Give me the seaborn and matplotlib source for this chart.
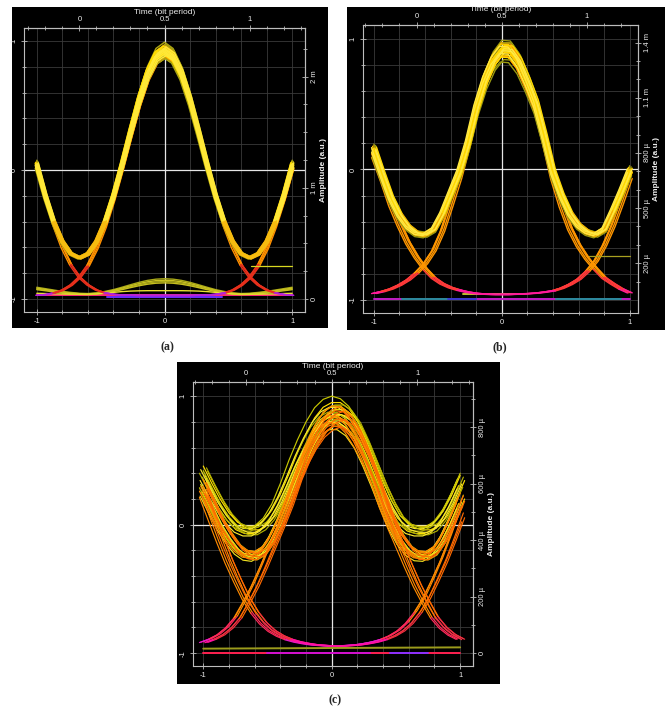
import numpy as np
import pandas as pd
import matplotlib
matplotlib.use("Agg")
import matplotlib.pyplot as plt
from matplotlib.patches import Rectangle
from matplotlib.ticker import FixedLocator
import seaborn as sns

sns.set_style("ticks")
plt.rcParams["font.family"] = ["Liberation Sans", "DejaVu Sans"]
plt.rcParams["axes.unicode_minus"] = False

FIG_W, FIG_H = 667, 711

# sample positions shared by every trace (time axis, -1 .. 1)
X_GRID = np.linspace(-1.0, 1.0, 31)

# ---------------- panel (a) ----------------
A_EYE = [0.043, -0.198, -0.402, -0.554, -0.648, -0.680, -0.648, -0.554, -0.402, -0.198,
         0.043, 0.299, 0.544, 0.748, 0.883, 0.930, 0.883, 0.748, 0.544, 0.299,
         0.043, -0.198, -0.402, -0.554, -0.648, -0.680, -0.648, -0.554, -0.402, -0.198, 0.043]
A_RISE = [-0.970, -0.965, -0.952, -0.930, -0.890, -0.828, -0.735, -0.600, -0.425, -0.210,
          0.036, 0.296, 0.543, 0.747, 0.883, 0.930, 0.883, 0.748, 0.544, 0.299,
          0.043, -0.198, -0.402, -0.554, -0.648, -0.680, -0.648, -0.554, -0.402, -0.198, 0.043]
A_FALL = [0.043, -0.198, -0.402, -0.554, -0.648, -0.680, -0.648, -0.554, -0.402, -0.198,
          0.043, 0.299, 0.544, 0.748, 0.883, 0.930, 0.883, 0.747, 0.543, 0.296,
          0.036, -0.210, -0.425, -0.600, -0.735, -0.828, -0.890, -0.930, -0.952, -0.965, -0.970]
A_DIP = [0.040, -0.205, -0.420, -0.600, -0.735, -0.830, -0.890, -0.930, -0.952, -0.963,
         -0.968, -0.970, -0.972, -0.972, -0.972, -0.972, -0.972, -0.972, -0.972, -0.970,
         -0.968, -0.963, -0.952, -0.930, -0.890, -0.830, -0.735, -0.600, -0.420, -0.205, 0.040]
A_BUMP = [-0.915, -0.925, -0.935, -0.945, -0.952, -0.958, -0.960, -0.955, -0.945, -0.932,
          -0.915, -0.897, -0.880, -0.866, -0.857, -0.854, -0.857, -0.866, -0.880, -0.897,
          -0.915, -0.932, -0.945, -0.955, -0.960, -0.958, -0.952, -0.945, -0.935, -0.925, -0.915]
A_LOW = [-0.955, -0.957, -0.959, -0.961, -0.962, -0.962, -0.962, -0.960, -0.955, -0.948,
         -0.942, -0.938, -0.936, -0.935, -0.935, -0.935, -0.935, -0.935, -0.936, -0.938,
         -0.942, -0.948, -0.955, -0.960, -0.962, -0.962, -0.962, -0.961, -0.959, -0.957, -0.955]
A_EYE_SCALES = [1.031, 1.022, 1.016, 1.012, 1.009, 1.006, 1.004, 1.002, 1.0, 0.998,
                0.996, 0.994, 0.992, 0.990, 0.988, 0.985, 0.982, 0.978, 0.972, 0.966]
A_EDGE_SCALES = [1.02, 1.0, 0.985, 0.97]
A_BUMP_SCALES = [1.08, 1.0, 0.93, 0.86]
A_SHIFTS = [0.0, 0.008, -0.008, 0.012, -0.012, 0.004, -0.004]
A_FLAT = [(-1.0, 1.0, -0.972, -0.972), (-0.45, 0.45, -0.985, -0.985),
          (0.675, 1.0, -0.745, -0.745)]
A_AMP_MAX = 2.32e-3
A_AMP_TICKS = [0.0, 1e-3, 2e-3]
A_AMP_LABELS = ["0", "1 m", "2 m"]

# ---------------- panel (b) ----------------
B_EYE = [0.15, -0.04, -0.22, -0.35, -0.44, -0.49, -0.50, -0.46, -0.34, -0.18,
         -0.02, 0.20, 0.47, 0.68, 0.83, 0.915, 0.91, 0.82, 0.67, 0.50,
         0.25, -0.02, -0.20, -0.34, -0.43, -0.48, -0.50, -0.46, -0.32, -0.17, -0.01]
B_RISE = [-0.95, -0.935, -0.915, -0.885, -0.845, -0.79, -0.72, -0.62, -0.47, -0.27,
          -0.06, 0.19, 0.47, 0.68, 0.83, 0.915, 0.91, 0.82, 0.67, 0.50,
          0.25, -0.02, -0.20, -0.34, -0.43, -0.48, -0.50, -0.46, -0.32, -0.17, -0.01]
B_FALL = [0.15, -0.04, -0.22, -0.35, -0.44, -0.49, -0.50, -0.46, -0.34, -0.18,
          -0.02, 0.20, 0.47, 0.68, 0.83, 0.915, 0.91, 0.82, 0.67, 0.50,
          0.24, -0.05, -0.27, -0.45, -0.58, -0.68, -0.76, -0.83, -0.875, -0.915, -0.945]
B_DIP = [0.12, -0.06, -0.26, -0.42, -0.56, -0.67, -0.76, -0.83, -0.875, -0.905,
         -0.925, -0.94, -0.95, -0.955, -0.958, -0.958, -0.958, -0.955, -0.952, -0.948,
         -0.94, -0.93, -0.91, -0.88, -0.84, -0.78, -0.70, -0.58, -0.43, -0.25, -0.06]
B_EYE_SCALES = [1.039, 1.030, 1.024, 1.019, 1.015, 1.011, 1.008, 1.005, 1.002, 1.0,
                0.997, 0.994, 0.990, 0.986, 0.980, 0.972, 0.962, 0.952]
B_EDGE_SCALES = [1.03, 1.015, 1.0, 0.99, 0.975]
B_SHIFTS = [0.0, 0.012, -0.010, 0.020, -0.018, 0.006, -0.006, 0.015, -0.014]
B_FLAT = [(-1.0, 1.0, -0.99, -0.99), (-0.78, -0.42, -0.99, -0.99), (0.42, 0.93, -0.99, -0.99),
          (-0.42, -0.20, -0.99, -0.99), (-0.30, 0.15, -0.955, -0.955),
          (0.685, 1.0, -0.66, -0.66)]
B_AMP_MAX = 1.42e-3
B_AMP_TICKS = [200e-6, 500e-6, 800e-6, 1.1e-3, 1.4e-3]
B_AMP_LABELS = ["200 µ", "500 µ", "800 µ", "1.1 m", "1.4 m"]

# ---------------- panel (c) ----------------
C_EYE_HIGH = [0.40, 0.27, 0.15, 0.05, -0.02, -0.05, -0.05, -0.01, 0.07, 0.19,
              0.34, 0.50, 0.64, 0.76, 0.84, 0.875, 0.875, 0.83, 0.74, 0.60,
              0.44, 0.28, 0.14, 0.03, -0.03, -0.05, -0.05, -0.02, 0.06, 0.18, 0.33]
C_EYE_LOW = [0.30, 0.16, 0.02, -0.09, -0.18, -0.23, -0.24, -0.20, -0.10, 0.04,
             0.21, 0.39, 0.56, 0.70, 0.80, 0.85, 0.85, 0.80, 0.70, 0.55,
             0.38, 0.20, 0.03, -0.10, -0.19, -0.235, -0.24, -0.20, -0.10, 0.04, 0.20]
C_TOP = [0.42, 0.29, 0.16, 0.06, -0.01, -0.03, -0.01, 0.05, 0.16, 0.32,
         0.50, 0.66, 0.80, 0.91, 0.975, 1.0, 0.98, 0.92, 0.82, 0.68,
         0.52, 0.35, 0.19, 0.07, 0.0, -0.03, -0.02, 0.03, 0.12, 0.25, 0.40]
C_RISE = [-0.915, -0.89, -0.855, -0.80, -0.72, -0.60, -0.47, -0.32, -0.16, 0.0,
          0.17, 0.37, 0.53, 0.66, 0.76, 0.82, 0.845, 0.80, 0.70, 0.55,
          0.38, 0.20, 0.03, -0.10, -0.19, -0.235, -0.24, -0.20, -0.10, 0.04, 0.20]
C_FALL = [0.30, 0.16, 0.02, -0.09, -0.18, -0.23, -0.24, -0.20, -0.10, 0.04,
          0.21, 0.39, 0.56, 0.70, 0.80, 0.85, 0.84, 0.77, 0.66, 0.53,
          0.37, 0.17, 0.0, -0.16, -0.32, -0.47, -0.60, -0.72, -0.80, -0.855, -0.89]
C_DIP = [0.25, 0.07, -0.11, -0.28, -0.43, -0.57, -0.68, -0.765, -0.825, -0.865,
         -0.893, -0.912, -0.925, -0.935, -0.94, -0.945, -0.945, -0.94, -0.935, -0.925,
         -0.912, -0.893, -0.865, -0.825, -0.765, -0.68, -0.57, -0.43, -0.28, -0.11, 0.07]
C_HIGH_SCALES = [1.04, 1.03, 1.02, 1.01, 1.0, 0.99, 0.98, 0.97, 0.96]
C_LOW_SCALES = [1.04, 1.025, 1.01, 1.0, 0.99, 0.98, 0.97, 0.955, 0.94]
C_EDGE_SCALES = [1.04, 1.02, 1.0, 0.985, 0.97, 0.955]
C_SHIFTS = [0.0, 0.025, -0.02, 0.035, -0.03, 0.012, -0.012, 0.02, -0.025, 0.03]
C_FLAT = [(-1.0, 1.0, -0.965, -0.955), (-1.0, 1.0, -1.0, -1.0),
          (-0.5, 0.3, -1.0, -1.0), (0.45, 0.75, -1.0, -1.0)]
C_AMP_MAX = 0.91e-3
C_AMP_TICKS = [0.0, 200e-6, 400e-6, 600e-6, 800e-6]
C_AMP_LABELS = ["0", "200 µ", "400 µ", "600 µ", "800 µ"]

# ---------------- styling ----------------
FRAME = "#bdbdbd"
GRID = "#3a3a3a"
ZERO_LINE = "#e6e6e6"
TEXT = "#ececec"
INF = np.inf


def px_rect(left, top, right, bottom):
    return [left / FIG_W, 1 - bottom / FIG_H, (right - left) / FIG_W, (bottom - top) / FIG_H]


def trace_frame(base, scales, shifts, ink):
    """Long-form table of traces; each trace is split into colour bands by level."""
    base = np.asarray(base, float)
    rows, uid = [], 0
    for k, s in enumerate(scales):
        bands = ink(k, len(scales))
        thr = [b[0] for b in bands]
        y = -1.0 + (base + 1.0) * s
        x = X_GRID + shifts[k % len(shifts)]
        band = np.searchsorted(thr, 0.5 * (y[:-1] + y[1:]))
        start = 0
        for i in range(1, len(band) + 1):
            if i == len(band) or band[i] != band[start]:
                color = bands[band[start]][1]
                for j in range(start, i + 1):
                    rows.append((x[j], y[j], uid, color))
                uid += 1
                start = i
    return pd.DataFrame(rows, columns=["x", "y", "unit", "color"])


def flat_frame(segments, colors):
    rows = []
    for i, ((x0, x1, y0, y1), c) in enumerate(zip(segments, colors)):
        rows += [(x0, y0, i, c), (x1, y1, i, c)]
    return pd.DataFrame(rows, columns=["x", "y", "unit", "color"])


def draw(ax, df, lw, z, alpha=1.0):
    sns.lineplot(data=df, x="x", y="y", units="unit", estimator=None, hue="color",
                 palette={c: c for c in df["color"].unique()}, sort=False, legend=False,
                 linewidth=lw, alpha=alpha, zorder=z, ax=ax)


def style_panel(ax, xlim, ylim, amp_max, amp_ticks, amp_labels, amp_minor):
    ax.set_facecolor("black")
    ax.set_xlim(*xlim)
    ax.set_ylim(*ylim)
    ax.set_xlabel("")
    ax.set_ylabel("")
    ax.set_xticks([-1, 0, 1], labels=["-1", "0", "1"])
    ax.set_yticks([-1, 0, 1], labels=["-1", "0", "1"])
    grid_pos = np.round(np.arange(-1.0, 1.01, 0.2), 2)
    ax.xaxis.set_minor_locator(FixedLocator(grid_pos))
    ax.yaxis.set_minor_locator(FixedLocator(grid_pos))
    ax.grid(True, which="both", color=GRID, lw=0.6)
    ax.set_axisbelow(True)
    ax.axhline(0, color=ZERO_LINE, lw=0.9, zorder=1)
    ax.axvline(0, color=ZERO_LINE, lw=0.9, zorder=1)
    for sp in ax.spines.values():
        sp.set_color(FRAME)
        sp.set_linewidth(0.8)
    tick_kw = dict(which="both", direction="inout", color=FRAME, labelcolor=TEXT,
                   labelsize=5.5, width=0.6)
    ax.tick_params(**tick_kw)
    ax.tick_params(which="major", length=4, pad=2.5)
    ax.tick_params(which="minor", length=3)
    ax.tick_params(axis="y", labelrotation=90)
    for t in ax.get_yticklabels():
        t.set_va("center")

    top = ax.secondary_xaxis("top", functions=(lambda v: 0.5 + 0.75 * v,
                                               lambda t: (t - 0.5) / 0.75))
    top.set_xticks([0, 0.5, 1], labels=["0", "0.5", "1"])
    top.xaxis.set_minor_locator(FixedLocator(np.round(np.arange(-0.3, 1.31, 0.1), 2)))
    top.tick_params(**tick_kw)
    top.tick_params(which="major", length=4, pad=1.5)
    top.tick_params(which="minor", length=3)
    top.spines["top"].set_color(FRAME)
    top.set_xlabel("Time (bit period)", color=TEXT, fontsize=6, labelpad=1.5)

    right = ax.secondary_yaxis("right", functions=(lambda v: (v + 1) / 2 * amp_max,
                                                   lambda a: 2 * a / amp_max - 1))
    right.set_yticks(amp_ticks, labels=amp_labels)
    right.yaxis.set_minor_locator(FixedLocator(amp_minor))
    right.tick_params(**tick_kw)
    right.tick_params(which="major", length=4, pad=2)
    right.tick_params(which="minor", length=3)
    right.tick_params(axis="y", labelrotation=90)
    for t in right.get_yticklabels():
        t.set_va("center")
    right.spines["right"].set_color(FRAME)
    right.set_ylabel("Amplitude (a.u.)", color=TEXT, fontsize=6, fontweight="bold",
                     labelpad=1.5)


def band_ink(*bands_per_kind):
    def ink(k, n):
        return bands_per_kind[k % len(bands_per_kind)]
    return ink


def eye_ink(edge, *inner):
    def ink(k, n):
        if k < 2 or k >= n - 2:
            return edge
        return inner[k % len(inner)]
    return ink


fig = plt.figure(figsize=(FIG_W / 100, FIG_H / 100), dpi=100)
fig.patch.set_facecolor("white")

panels = {
    "a": dict(panel=(12, 7, 328, 328), box=(24, 28, 305, 312), xlim=(-1.1, 1.1),
              ylim=(-1.1, 1.1), caption=(167, 347)),
    "b": dict(panel=(347, 7, 665, 330), box=(363, 25, 638, 313), xlim=(-1.085, 1.065),
              ylim=(-1.10, 1.107), caption=(500, 347)),
    "c": dict(panel=(177, 362, 500, 684), box=(193, 382, 473, 666), xlim=(-1.08, 1.10),
              ylim=(-1.10, 1.11), caption=(335, 700)),
}

axes = {}
for key, p in panels.items():
    l, t, r, b = p["panel"]
    fig.add_artist(Rectangle((l / FIG_W, 1 - b / FIG_H), (r - l) / FIG_W, (b - t) / FIG_H,
                             transform=fig.transFigure, facecolor="black",
                             edgecolor="none", zorder=0))
    axes[key] = fig.add_axes(px_rect(*p["box"]))
    cx, cy = p["caption"]
    fig.text(cx / FIG_W, 1 - cy / FIG_H, f"({key})", ha="center", va="center",
             fontsize=8.5, fontweight="bold", family=["Liberation Serif", "DejaVu Serif"])

# ---- (a)
ax = axes["a"]
a_edges = [(-0.95, "#b423d8"), (-0.74, "#e8301c"), (INF, "#ff9000")]
a_eye = eye_ink([(INF, "#a8a210")],
                [(-0.35, "#f2ae00"), (INF, "#ffdc00")],
                [(-0.35, "#f7bc10"), (INF, "#ffe838")])
draw(ax, flat_frame(A_FLAT[:2], ["#ff2a78", "#6a2cff"]), 1.4, 2)
draw(ax, trace_frame(A_BUMP, A_BUMP_SCALES, [0.0], band_ink([(INF, "#a8a818")],
                                                         [(INF, "#c8c020")])), 1.0, 3)
draw(ax, trace_frame(A_LOW, [1.0], [0.0], band_ink([(INF, "#e8e030")])), 1.0, 3)
for fam in (A_DIP, A_RISE, A_FALL):
    draw(ax, trace_frame(fam, A_EDGE_SCALES, A_SHIFTS, band_ink(a_edges)), 1.0, 4)
draw(ax, trace_frame(A_EYE, A_EYE_SCALES, A_SHIFTS, a_eye), 1.1, 5)
draw(ax, flat_frame(A_FLAT[2:], ["#d8d820"]), 0.9, 5)
style_panel(ax, panels["a"]["xlim"], panels["a"]["ylim"], A_AMP_MAX, A_AMP_TICKS,
            A_AMP_LABELS, np.arange(0, 2.31e-3, 0.25e-3))

# ---- (b)
ax = axes["b"]
b_edges = [(-0.965, "#d018d0"), (-0.93, "#ff1a9a"), (-0.80, "#ff3a3a"), (INF, "#ff9600")]
b_eye = eye_ink([(INF, "#9a9a10")],
                [(-0.3, "#f5b400"), (INF, "#ffd800")],
                [(INF, "#ffe840")],
                [(-0.3, "#f0a000"), (INF, "#ffcc00")])
draw(ax, flat_frame(B_FLAT[:5], ["#c21ec8", "#2a8c9c", "#2a8c9c", "#3a3ad0", "#c0c030"]),
     1.4, 2)
for fam in (B_DIP, B_RISE, B_FALL):
    draw(ax, trace_frame(fam, B_EDGE_SCALES, B_SHIFTS, band_ink(b_edges)), 1.0, 4)
draw(ax, trace_frame(B_EYE, B_EYE_SCALES, B_SHIFTS, b_eye), 1.0, 5)
draw(ax, flat_frame(B_FLAT[5:], ["#a8a020"]), 0.9, 5)
style_panel(ax, panels["b"]["xlim"], panels["b"]["ylim"], B_AMP_MAX, B_AMP_TICKS,
            B_AMP_LABELS, np.arange(100e-6, 1.42e-3, 100e-6))

# ---- (c)
ax = axes["c"]
c_edges = band_ink([(-0.90, "#e818c8"), (-0.72, "#ff2a5a"), (INF, "#ff8a00")],
                   [(-0.90, "#ff10a0"), (-0.72, "#f03040"), (INF, "#ff6a00")])
draw(ax, flat_frame(C_FLAT, ["#9c9c1c", "#ff2050", "#d010d0", "#8a30ff"]), 1.4, 2)
draw(ax, trace_frame(C_EYE_LOW, C_LOW_SCALES, C_SHIFTS,
                     band_ink([(INF, "#ffd400")], [(INF, "#c8c000")], [(INF, "#f0e020")])),
     0.85, 4)
draw(ax, trace_frame(C_EYE_HIGH, C_HIGH_SCALES, C_SHIFTS,
                     band_ink([(INF, "#ffe000")], [(INF, "#b0b000")], [(INF, "#f8e830")])),
     0.85, 4)
for fam in (C_DIP, C_RISE, C_FALL):
    draw(ax, trace_frame(fam, C_EDGE_SCALES, C_SHIFTS, c_edges), 0.85, 5)
draw(ax, trace_frame(C_TOP, [1.0], [0.0], band_ink([(INF, "#c8c800")])), 0.85, 6)
style_panel(ax, panels["c"]["xlim"], panels["c"]["ylim"], C_AMP_MAX, C_AMP_TICKS,
            C_AMP_LABELS, np.arange(0, 0.91e-3, 100e-6))

fig.savefig("out.png", dpi=100, facecolor="white")
